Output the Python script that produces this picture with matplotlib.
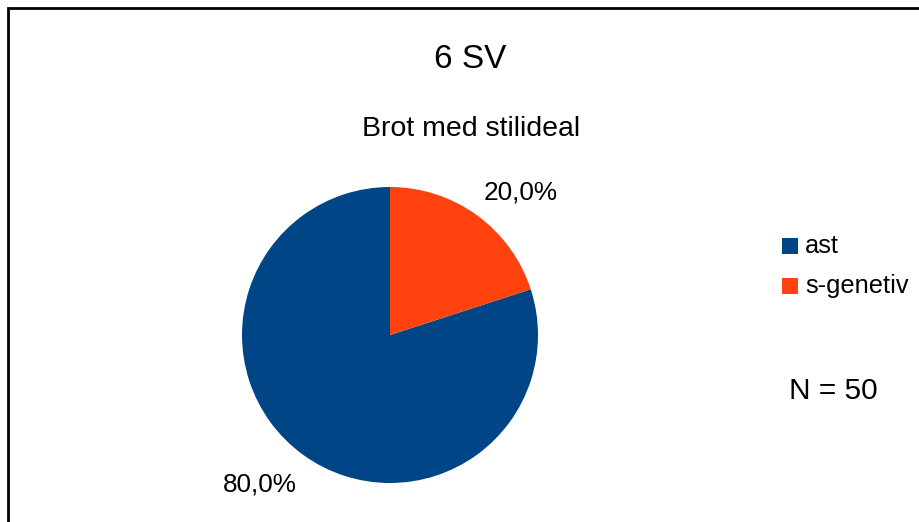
import numpy as np
import matplotlib
matplotlib.use('Agg')
import matplotlib.pyplot as plt
from matplotlib.patches import Rectangle

W, H = 920, 522

title = '6 SV'
subtitle = 'Brot med stilideal'
categories = ['ast', 's-genetiv']
shares = [80.0, 20.0]
colors = ['#004586', '#ff420e']
note = 'N = 50'

plt.rcParams['font.family'] = ['Liberation Sans', 'DejaVu Sans']

def fx(px):
	return px / W

def fy(py):
	return 1 - py / H

fig = plt.figure(figsize=(W / 100, H / 100), dpi=100)
fig.patch.set_facecolor('white')

# outer frame, right and bottom edges run off the canvas
fig.patches.append(Rectangle((fx(8), fy(530)), fx(940), fy(8) - fy(530),
	transform=fig.transFigure, fill=False, edgecolor='black', linewidth=2))

fig.text(fx(470), fy(60), title, ha='center', va='center', fontsize=24)
fig.text(fx(471), fy(129), subtitle, ha='center', va='center', fontsize=20.5)

# pie: centre (390, 335), radius 148 px
cx, cy, r = 390, 335, 148
ax = fig.add_axes([fx(cx - r), fy(cy + r), fx(2 * r), fy(cy - r) - fy(cy + r)])
wedges, _ = ax.pie(shares, colors=colors, startangle=90, counterclock=True,
	radius=1.0, wedgeprops=dict(linewidth=0))
ax.set_xlim(-1, 1)
ax.set_ylim(-1, 1)
ax.set_aspect('equal')
ax.axis('off')

for w, v in zip(wedges, shares):
	mid = np.deg2rad((w.theta1 + w.theta2) / 2)
	x, y = 1.04 * np.cos(mid), 1.04 * np.sin(mid)
	ha = 'left' if x > 0 else 'right'
	va = 'bottom' if y > 0 else 'top'
	off = (2, 4) if y > 0 else (-2, -9)
	ax.annotate(('%.1f%%' % v).replace('.', ','), (x, y), xytext=off,
		textcoords='offset points', ha=ha, va=va, fontsize=18.8,
		annotation_clip=False)

# legend
for i, (lab, col) in enumerate(zip(categories, colors)):
	ly = 246 + i * 40
	fig.patches.append(Rectangle((fx(782), fy(ly + 8)), fx(16), fy(ly - 8) - fy(ly + 8),
		transform=fig.transFigure, facecolor=col, edgecolor='none'))
	fig.text(fx(805), fy(ly), lab, ha='left', va='center', fontsize=18.3)

fig.text(fx(833), fy(391), note, ha='center', va='center', fontsize=21.5)

fig.savefig('out.png', dpi=100, facecolor='white')
